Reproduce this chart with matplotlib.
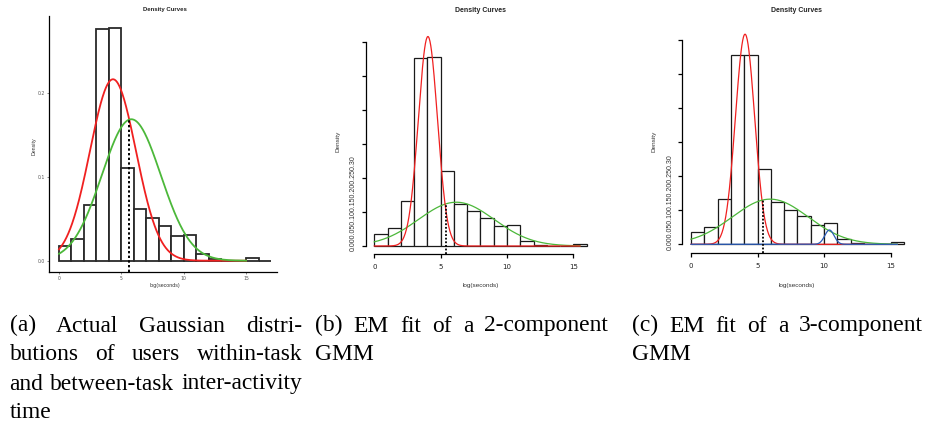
import numpy as np
import matplotlib
matplotlib.use("Agg")
import matplotlib.pyplot as plt

# histogram of log(seconds), bin width 1, density scale
bin_left = np.arange(0, 17)
density = [0.018, 0.026, 0.066, 0.277, 0.278, 0.111, 0.062, 0.051, 0.041,
           0.029, 0.031, 0.008, 0.002, 0.0, 0.0, 0.003, 0.0]

# (a) actual gaussians: within-task (red), between-task (green)
a_means = [4.33, 5.8]
a_sds = [1.84, 2.36]
a_threshold = 5.6

# (b) 2-component GMM
b_weights = [0.556, 0.46]
b_means = [4.04, 6.18]
b_sds = [0.72, 2.85]
b_threshold = 5.38

# (c) 3-component GMM
c_weights = [0.556, 0.473, 0.0184]
c_means = [4.06, 5.95, 10.4]
c_sds = [0.72, 2.85, 0.35]
c_threshold = 5.39

captions = [
    ["(a) Actual Gaussian distri-", "butions of users within-task",
     "and between-task inter-activity", "time"],
    ["(b) EM fit of a 2-component", "GMM"],
    ["(c) EM fit of a 3-component", "GMM"],
]

W, H = 930, 422
RED, GREEN, BLUE = "#f02020", "#4cb83a", "#2a5cb8"


def gauss(x, m, s, w=1.0):
    return w * np.exp(-0.5 * ((x - m) / s) ** 2) / (s * np.sqrt(2 * np.pi))


def rect(l, t, r, b):
    return [l / W, 1 - b / H, (r - l) / W, (b - t) / H]


def ftext(x, y, s, **kw):
    fig.text(x / W, 1 - y / H, s, **kw)


fig = plt.figure(figsize=(9.3, 4.22), dpi=100)
sans = "Liberation Sans"

### (a) ggplot-like panel
ax = fig.add_axes(rect(49, 16, 277, 272))
ax.bar(bin_left, density, width=1, align="edge", facecolor="white",
       edgecolor="#2a2a2a", linewidth=1.3, zorder=2)
xs = np.linspace(0, 15, 400)
ax.plot(xs, gauss(xs, a_means[0], a_sds[0]), color=RED, lw=1.3, zorder=3)
ax.plot(xs, gauss(xs, a_means[1], a_sds[1]), color=GREEN, lw=1.3, zorder=3)
ax.plot([a_threshold, a_threshold], [-0.0135, gauss(a_threshold, a_means[1], a_sds[1])],
        color="black", ls=(0, (1.2, 1.2)), lw=1.4, zorder=4)
ax.set_xlim(-0.8, 17.48)
ax.set_ylim(-0.0135, 0.2924)
for s in ["top", "right"]:
    ax.spines[s].set_visible(False)
for s in ["left", "bottom"]:
    ax.spines[s].set_linewidth(0.9)
ax.set_xticks([0, 5, 10, 15])
ax.set_yticks([0.0, 0.1, 0.2])
ax.set_yticklabels(["0.0", "0.1", "0.2"])
ax.tick_params(length=1.5, width=0.5, color="#555555", labelsize=3.3,
               labelcolor="#555555", pad=1.2)
ftext(165, 10, "Density Curves", ha="center", va="center", fontsize=4.3,
      fontweight="bold", family=sans, color="#222222")
ftext(34, 146, "Density", ha="center", va="center", rotation=90,
      fontsize=3.8, family=sans, color="#333333")
ftext(165, 285, "log(seconds)", ha="center", va="center", fontsize=3.8,
      family=sans, color="#333333")


### (b) and (c) base-R-like panels
def r_panel(box, x0, xunit, y0, yunit, yaxis_px, xaxis_px, weights, means, sds,
            colors, threshold, center_x, ylab_x, ticklab_x, ticklab_y):
    l, t, r, b = box
    ax = fig.add_axes(rect(l, t, r, b))
    ax.set_xlim((l - x0) / xunit, (r - x0) / xunit)
    ax.set_ylim((y0 - b) * yunit, (y0 - t) * yunit)
    ax.bar(bin_left[:16], density[:16], width=1, align="edge",
           facecolor="white", edgecolor="#1a1a1a", linewidth=0.9, zorder=2)
    xs = np.linspace(0, 15.5, 500)
    curves = [gauss(xs, m, s, w) for w, m, s in zip(weights, means, sds)]
    order = [1, 0] if len(weights) == 2 else [0, 1, 2]
    for i in order:
        ax.plot(xs, curves[i], color=colors[i], lw=0.9, zorder=3)
    ybot = (y0 - xaxis_px) * yunit
    ytop = gauss(threshold, means[1], sds[1], weights[1])
    ax.plot([threshold, threshold], [ybot, ytop], color="black",
            ls=(0, (1.0, 1.0)), lw=1.3, zorder=4)
    for s in ["top", "right"]:
        ax.spines[s].set_visible(False)
    ax.spines["left"].set_position(("data", (yaxis_px - x0) / xunit))
    ax.spines["left"].set_bounds(0, 0.30)
    ax.spines["bottom"].set_position(("data", ybot))
    ax.spines["bottom"].set_bounds(0, 15)
    for s in ["left", "bottom"]:
        ax.spines[s].set_linewidth(0.9)
    ax.set_xticks([0, 5, 10, 15])
    ax.set_yticks([0, 0.05, 0.10, 0.15, 0.20, 0.25, 0.30])
    ax.set_yticklabels([])
    ax.tick_params(length=3, width=0.9, labelsize=5, labelcolor="#222222", pad=4.5)
    ftext(center_x, 10, "Density Curves", ha="center", va="center", fontsize=5,
          fontweight="bold", family=sans, color="#222222")
    ftext(ylab_x, 141, "Density", ha="center", va="center", rotation=90,
          fontsize=4.6, family=sans, color="#333333")
    ftext(ticklab_x, ticklab_y, "0.000.050.100.150.200.250.30", ha="center",
          va="center", rotation=90, fontsize=5, family=sans, color="#333333")
    ftext(center_x, 285.5, "log(seconds)", ha="center", va="center",
          fontsize=4.6, family=sans, color="#333333")
    return ax


r_panel((360, 30, 600, 262), 374.3, 13.27, 246.0, 0.05 / 34, 365.7, 254.0,
        b_weights, b_means, b_sds, [RED, GREEN], b_threshold,
        480.5, 338, 353.5, 203.5)
r_panel((676, 28, 916, 260), 691.0, 13.31, 244.3, 0.3 / 204.6, 681.7, 252.7,
        c_weights, c_means, c_sds, [RED, GREEN, BLUE], c_threshold,
        796.7, 654, 670.7, 202)

### captions, justified like a LaTeX subcaption
serif = "Liberation Serif"
fig.canvas.draw()
renderer = fig.canvas.get_renderer()
baselines = [331.5, 360.5, 389.5, 418.5]
spans = [(9.5, 302), (315, 608), (632, 923)]


def text_width(s, size):
    t = fig.text(0, 0, s, fontsize=size, family=serif)
    w = t.get_window_extent(renderer).width
    t.remove()
    return w


# the reference line "and between-task inter-activity" is set at natural width
cap_size = 16.6 * 290 / text_width(captions[0][2], 16.6)

for lines, (x0, x1) in zip(captions, spans):
    for k, line in enumerate(lines):
        y = 1 - baselines[k] / H
        words = line.split(" ")
        if k == len(lines) - 1 or len(words) == 1:
            fig.text(x0 / W, y, line, fontsize=cap_size, family=serif,
                     va="baseline", ha="left")
            continue
        # start of each word in the natural layout, then spread the rest
        starts = [0.0]
        for j in range(1, len(words)):
            full = text_width(" ".join(words[:j + 1]), cap_size)
            starts.append(full - text_width(words[j], cap_size))
        extra = (x1 - x0 - text_width(line, cap_size)) / (len(words) - 1)
        for j, wd in enumerate(words):
            fig.text((x0 + starts[j] + j * extra) / W, y, wd, fontsize=cap_size,
                     family=serif, va="baseline", ha="left")

fig.savefig("out.png", dpi=100)
